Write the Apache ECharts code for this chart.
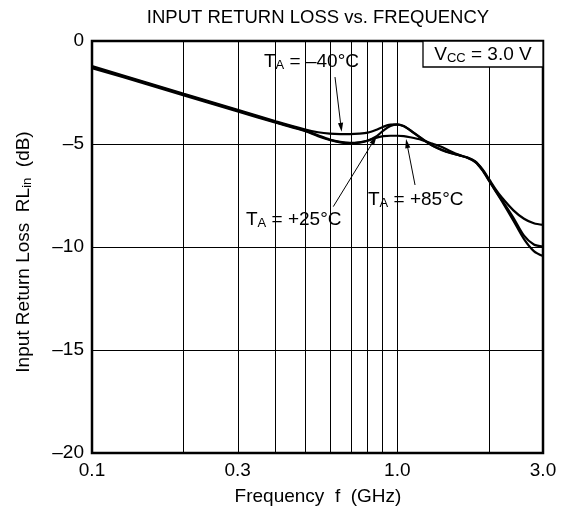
<!DOCTYPE html>
<html>
<head>
<meta charset="utf-8">
<script src="https://cdn.jsdelivr.net/npm/echarts@6/dist/echarts.min.js"></script>
<style>
  html, body { margin: 0; padding: 0; background: #fff; }
  #chart { width: 564px; height: 514px; }
</style>
</head>
<body>
<div id="chart"></div>
<script>
// Frequency points (GHz) shared by the three temperature curves
const freqGHz = [0.1, 0.15, 0.2, 0.3, 0.4, 0.5, 0.55, 0.6, 0.65, 0.7, 0.75, 0.8, 0.85, 0.9, 0.95,
  1.0, 1.05, 1.1, 1.2, 1.3, 1.4, 1.5, 1.6, 1.7, 1.8, 1.9, 2.0, 2.1, 2.2, 2.4, 2.6, 2.8, 3.0];

// Input return loss (dB) at TA = -40°C, +25°C, +85°C
const rlMinus40 = [-1.22, -2.0, -2.56, -3.34, -3.9, -4.3, -4.43, -4.5, -4.52, -4.52, -4.5, -4.45, -4.32, -4.16, -4.06,
  -4.05, -4.14, -4.33, -4.74, -5.08, -5.3, -5.45, -5.56, -5.68, -5.88, -6.28, -6.8, -7.3, -7.78, -8.72, -9.62, -10.2, -10.44];
const rlPlus25 = [-1.27, -2.04, -2.6, -3.38, -3.94, -4.35, -4.58, -4.78, -4.9, -4.95, -4.92, -4.83, -4.65, -4.35, -4.12,
  -4.06, -4.13, -4.32, -4.72, -5.06, -5.28, -5.44, -5.55, -5.67, -5.86, -6.26, -6.78, -7.28, -7.72, -8.58, -9.45, -9.88, -9.98];
const rlPlus85 = [-1.32, -2.08, -2.64, -3.42, -3.97, -4.38, -4.62, -4.8, -4.92, -4.96, -4.93, -4.84, -4.7, -4.62, -4.6,
  -4.6, -4.62, -4.67, -4.8, -4.98, -5.15, -5.37, -5.54, -5.66, -5.84, -6.22, -6.72, -7.2, -7.6, -8.22, -8.63, -8.85, -8.93];

// Axis ticks
const xTickValues = [0.1, 0.3, 1.0, 3.0];
const xTickLabels = ['0.1', '0.3', '1.0', '3.0'];
const xGridFreqs = [0.2, 0.3, 0.4, 0.5, 0.6, 0.7, 0.8, 0.9, 1.0, 2.0];
const yTickLabels = ['0', '\u20135', '\u201310', '\u201315', '\u201320'];

const FONT = '"Liberation Sans", Arial, Helvetica, sans-serif';
const lg = Math.log10;
const xMin = lg(xTickValues[0]);
const xMax = lg(xTickValues[xTickValues.length - 1]);

const chart = echarts.init(document.getElementById('chart'), null, { renderer: 'canvas' });

function curve(name, vals) {
  return {
    name: name,
    type: 'line',
    data: freqGHz.map((f, i) => [lg(f), vals[i]]),
    smooth: 0.3,
    symbol: 'none',
    silent: true,
    lineStyle: { color: '#000', width: 2.2 },
    z: 3
  };
}

const gridSeries = curve('-40', rlMinus40);
gridSeries.markLine = {
  silent: true,
  symbol: 'none',
  label: { show: false },
  lineStyle: { color: '#000', width: 1, type: 'solid' },
  data: xGridFreqs.map(f => ({ xAxis: lg(f) }))
};

chart.setOption({
  animation: false,
  backgroundColor: '#fff',
  grid: { left: 92, right: 21, top: 41, bottom: 61, show: true, borderColor: '#000', borderWidth: 2.5 },
  xAxis: {
    type: 'value',
    min: xMin,
    max: xMax,
    axisLine: { show: false },
    axisTick: { show: false },
    splitLine: { show: false },
    axisLabel: {
      customValues: xTickValues.map(lg),
      formatter: v => {
        const i = xTickValues.findIndex(t => Math.abs(lg(t) - v) < 1e-6);
        return i >= 0 ? xTickLabels[i] : '';
      },
      color: '#000', fontSize: 19, fontFamily: FONT, margin: 8
    }
  },
  yAxis: {
    type: 'value',
    min: -20,
    max: 0,
    interval: 5,
    axisLine: { show: false },
    axisTick: { show: false },
    splitLine: { show: true, lineStyle: { color: '#000', width: 1 } },
    axisLabel: {
      formatter: v => yTickLabels[Math.round(-v / 5)],
      color: '#000', fontSize: 19, fontFamily: FONT, margin: 8
    }
  },
  series: [gridSeries, curve('+25', rlPlus25), curve('+85', rlPlus85)]
});

// Annotations: labels and arrows pointing at the curves
const px = (f, v) => chart.convertToPixel({ gridIndex: 0 }, [lg(f), v]);
const arrows = [
  { from: [0.625, -1.75], to: [0.657, -4.41] },
  { from: [0.617, -8.04], to: [0.855, -4.62] },
  { from: [1.143, -6.99], to: [1.068, -4.76] }
];

const rich = {
  m: { fontSize: 19, fontFamily: FONT, color: '#000', verticalAlign: 'bottom' },
  s: { fontSize: 13, fontFamily: FONT, color: '#000', verticalAlign: 'bottom' }
};

function label(x, y, text, align) {
  return {
    type: 'text', x: x, y: y, z: 100,
    style: { text: text, rich: rich, align: align || 'left', verticalAlign: 'middle' }
  };
}

const graphics = [];
arrows.forEach(a => {
  const p0 = px(a.from[0], a.from[1]);
  const p1 = px(a.to[0], a.to[1]);
  const dx = p1[0] - p0[0], dy = p1[1] - p0[1];
  const len = Math.sqrt(dx * dx + dy * dy);
  const ux = dx / len, uy = dy / len;
  const headL = 9, headW = 2.6;
  const bx = p1[0] - ux * headL, by = p1[1] - uy * headL;
  graphics.push({
    type: 'line', z: 90,
    shape: { x1: p0[0], y1: p0[1], x2: bx, y2: by },
    style: { stroke: '#000', lineWidth: 1 }
  });
  graphics.push({
    type: 'polygon', z: 90,
    shape: { points: [[p1[0], p1[1]], [bx - uy * headW, by + ux * headW], [bx + uy * headW, by - ux * headW]] },
    style: { fill: '#000' }
  });
});

graphics.push(
  { type: 'rect', z: 95, shape: { x: 423, y: 41, width: 120, height: 26 }, style: { fill: '#fff', stroke: '#000', lineWidth: 1.3 } },
  label(483, 55, '{m|V}{s|CC}{m| = 3.0 V}', 'center'),
  label(264, 62, '{m|T}{s|A}{m| = \u201340\u00b0C}'),
  label(246, 220, '{m|T}{s|A}{m| = +25\u00b0C}'),
  label(368, 200, '{m|T}{s|A}{m| = +85\u00b0C}'),
  {
    type: 'text', x: 318, y: 18, z: 100,
    style: { text: 'INPUT RETURN LOSS vs. FREQUENCY', font: '18.5px ' + FONT, fill: '#000', align: 'center', verticalAlign: 'middle' }
  },
  {
    type: 'text', x: 318, y: 497, z: 100,
    style: { text: 'Frequency  f  (GHz)', font: '19px ' + FONT, fill: '#000', align: 'center', verticalAlign: 'middle' }
  },
  {
    type: 'text', x: 24, y: 252, z: 100, rotation: Math.PI / 2,
    style: { text: '{m|Input Return Loss  RL}{s|in}{m|  (dB)}', rich: rich, align: 'center', verticalAlign: 'middle' }
  }
);

chart.setOption({ graphic: graphics });
</script>
</body>
</html>
